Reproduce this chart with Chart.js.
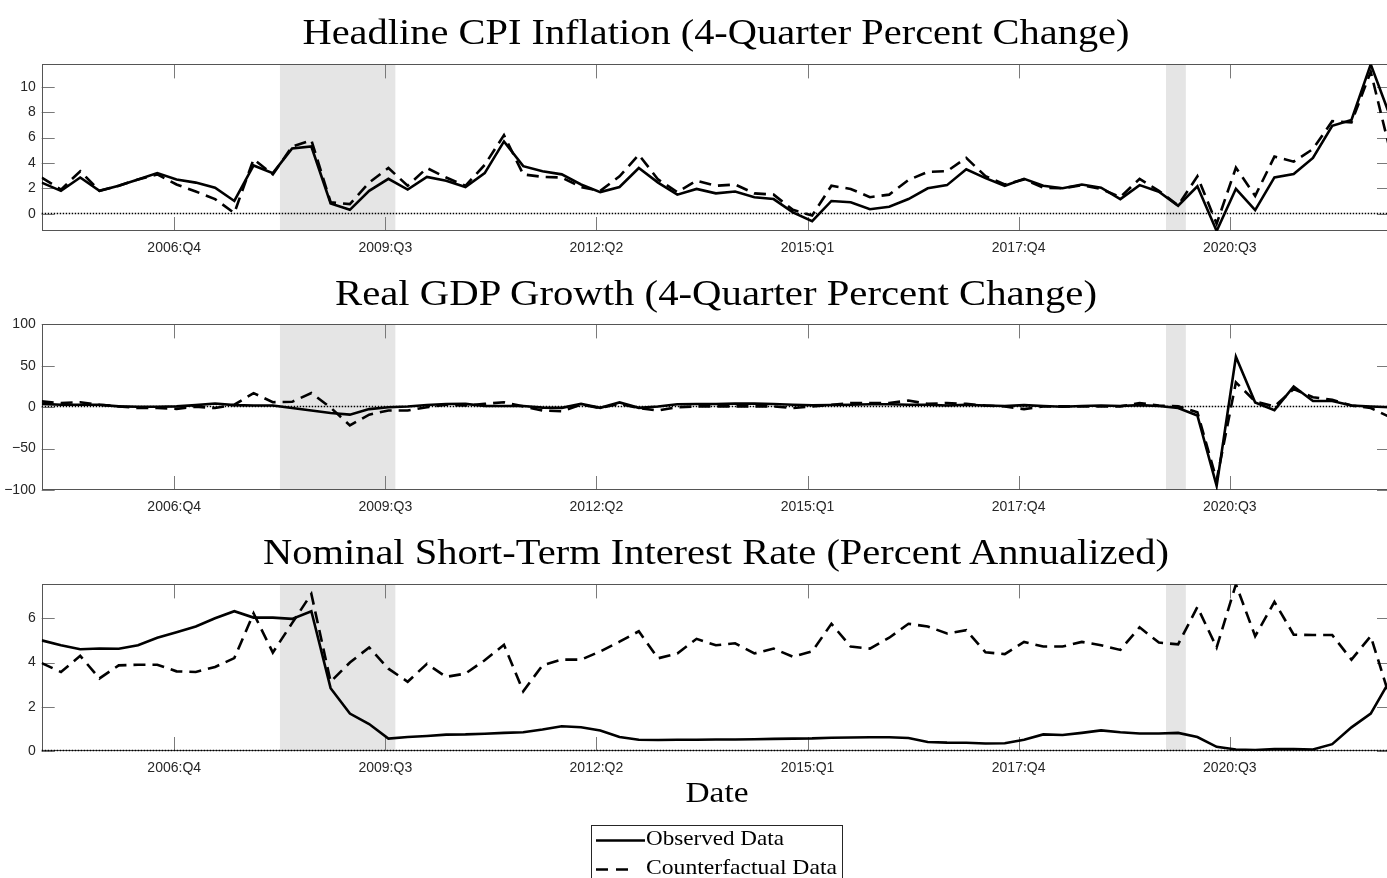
<!DOCTYPE html>
<html>
<head>
<meta charset="utf-8">
<script src="https://cdn.jsdelivr.net/npm/chart.js@4.4.1/dist/chart.umd.min.js"></script>
<style>
  html, body { margin: 0; padding: 0; background: #fff; width: 1387px; height: 878px; overflow: hidden; }
  canvas { position: absolute; left: 0; }
  #overlay { position: absolute; left: 0; top: 0; }
  #overlay text { font-family: "Liberation Serif", "Times New Roman", serif; fill: #000; }
</style>
</head>
<body>
<canvas id="cpi" width="1392" height="215" style="top:50px"></canvas>
<canvas id="gdp" width="1392" height="215" style="top:310px"></canvas>
<canvas id="rate" width="1392" height="215" style="top:570px"></canvas>

<svg id="overlay" width="1387" height="878">
  <text x="716" y="44" font-size="35" text-anchor="middle" textLength="827" lengthAdjust="spacingAndGlyphs">Headline CPI Inflation (4-Quarter Percent Change)</text>
  <text x="716" y="305" font-size="35" text-anchor="middle" textLength="762" lengthAdjust="spacingAndGlyphs">Real GDP Growth (4-Quarter Percent Change)</text>
  <text x="716" y="564" font-size="35" text-anchor="middle" textLength="906" lengthAdjust="spacingAndGlyphs">Nominal Short-Term Interest Rate (Percent Annualized)</text>
  <text x="717" y="802" font-size="29" text-anchor="middle" textLength="63" lengthAdjust="spacingAndGlyphs">Date</text>
  <rect x="591.5" y="825.5" width="251" height="70" fill="#fff" stroke="#262626" stroke-width="1"/>
  <line x1="596" y1="840.5" x2="645" y2="840.5" stroke="#000" stroke-width="2.6"/>
  <line x1="596" y1="869.5" x2="630" y2="869.5" stroke="#000" stroke-width="2.6" stroke-dasharray="12 8"/>
  <text x="646" y="845" font-size="21" textLength="138" lengthAdjust="spacingAndGlyphs">Observed Data</text>
  <text x="646" y="874" font-size="21" textLength="191" lengthAdjust="spacingAndGlyphs">Counterfactual Data</text>
</svg>

<script>
// quarters 2005:Q1 .. 2022:Q3 (index 0..70)
const quarters = [];
for (let y = 2005; y <= 2022; y++) for (let q = 1; q <= 4; q++) quarters.push(y + ":Q" + q);
quarters.length = 71;

const tickLabels = ["2006:Q4", "2009:Q3", "2012:Q2", "2015:Q1", "2017:Q4", "2020:Q3"];
const tickAt = [6.88, 17.84, 28.80, 39.76, 50.72, 61.68];
const recessions = [[12.37, 18.36], [58.37, 59.40]];

const cpiObs = [2.45, 1.8, 2.85, 1.8, 2.2, 2.7, 3.2, 2.7, 2.45, 2.05,
  1.0, 3.8, 3.2, 5.15, 5.3, 0.8, 0.3, 1.8, 2.75, 1.9,
  2.9, 2.6, 2.1, 3.2, 5.7, 3.75, 3.35, 3.1, 2.3, 1.7,
  2.1, 3.6, 2.45, 1.5, 1.95, 1.6, 1.75, 1.3, 1.15, 0.1,
  -0.6, 1.0, 0.9, 0.35, 0.55, 1.15, 2.0, 2.25, 3.5, 2.8,
  2.2, 2.75, 2.2, 2.0, 2.3, 2.05, 1.15, 2.25, 1.73, 0.62,
  2.16, -1.37, 1.96, 0.28, 2.86, 3.12, 4.4, 6.93, 7.4, 11.78,
  7.7];
const cpiCf = [2.85, 1.9, 3.35, 1.8, 2.2, 2.7, 3.1, 2.3, 1.75, 1.15,
  0.05, 4.3, 3.1, 5.3, 5.8, 0.9, 0.75, 2.45, 3.6, 2.2,
  3.6, 2.85, 2.2, 3.85, 6.2, 3.1, 2.9, 2.85, 2.1, 1.8,
  2.95, 4.65, 2.7, 1.7, 2.6, 2.2, 2.3, 1.6, 1.5, 0.3,
  -0.15, 2.2, 1.95, 1.3, 1.5, 2.65, 3.3, 3.35, 4.4, 2.95,
  2.3, 2.7, 2.05, 2.0, 2.25, 1.95, 1.3, 2.75, 1.8, 0.65,
  2.95, -0.8, 3.63, 1.4, 4.5, 4.1, 5.1, 7.3, 7.2, 11.2,
  5.0];

const gdpObs = [4, 3, 3, 3, 1, 0.5, 0.5, 1, 2.5, 4.5,
  2.5, 2, 2, -1, -4, -7, -9, -2.3, 0, 0.8,
  2.7, 3.9, 4, 1.5, 1.5, 1.5, -0.5, -0.8, 4, -0.8,
  5.8, -0.8, 0.8, 3.5, 3.9, 3.9, 4.3, 4.3, 3.9, 3,
  2.3, 2.7, 3, 3.5, 3.5, 3, 3, 2, 3, 2,
  1.5, 2.5, 1.5, 0.5, 1.5, 2, 1.5, 2.5, 1.5, -1,
  -10, -95, 61, 5.8, -3.5, 25, 7.4, 7.4, 2, 0.8,
  0];
const gdpCf = [7, 5, 6, 3, 1, -1, -1, -2, 0.5, -1,
  3, 17, 6, 6.5, 17, -0.5, -22, -9, -4, -4,
  0, 3, 2, 4, 6, 1, -4, -5, 3, -1,
  4, -1, -4, 0, 1, 1, 1, 1, 1, -1,
  1, 3, 5, 5, 5, 8, 4, 5, 4, 2,
  1, -2.3, 1, 1, 1, 1, 1, 5, 2, 1,
  -6, -88, 30, 7, 0.8, 22, 12, 9, 2, -1,
  -12];

const rateObs = [5.0, 4.78, 4.6, 4.63, 4.62, 4.78, 5.12, 5.37, 5.63, 6.0,
  6.32, 6.03, 6.03, 5.97, 6.32, 2.84, 1.69, 1.22, 0.56, 0.63,
  0.68, 0.74, 0.75, 0.78, 0.82, 0.85, 0.97, 1.12, 1.07, 0.93,
  0.63, 0.51, 0.5, 0.51, 0.51, 0.52, 0.52, 0.53, 0.55, 0.56,
  0.57, 0.6, 0.61, 0.62, 0.62, 0.59, 0.41, 0.38, 0.37, 0.34,
  0.35, 0.51, 0.75, 0.72, 0.82, 0.93, 0.85, 0.79, 0.79, 0.82,
  0.63, 0.19, 0.07, 0.04, 0.09, 0.09, 0.07, 0.31, 1.07, 1.69,
  3.2];
const rateCf = [3.97, 3.57, 4.3, 3.28, 3.87, 3.9, 3.9, 3.6, 3.57, 3.8,
  4.2, 6.22, 4.45, 5.78, 7.1, 3.13, 4.0, 4.68, 3.72, 3.13,
  3.94, 3.35, 3.5, 4.1, 4.8, 2.7, 3.87, 4.13, 4.13, 4.5,
  4.94, 5.41, 4.19, 4.41, 5.07, 4.78, 4.87, 4.41, 4.63, 4.26,
  4.5, 5.75, 4.72, 4.63, 5.12, 5.75, 5.63, 5.31, 5.46, 4.46,
  4.38, 4.93, 4.72, 4.72, 4.93, 4.78, 4.57, 5.59, 4.9, 4.82,
  6.51, 4.68, 7.53, 5.19, 6.74, 5.26, 5.24, 5.24, 4.13, 5.19,
  2.4];

const tickFont = { family: "Liberation Sans, Arial, sans-serif", size: 14 };

const decor = {
  id: "decor",
  beforeDatasetsDraw(chart) {
    const { ctx, chartArea: a, scales: { x, y } } = chart;
    ctx.save();
    ctx.fillStyle = "#e5e5e5";
    recessions.forEach(([s, e]) => {
      const x0 = x.getPixelForValue(s), x1 = x.getPixelForValue(e);
      ctx.fillRect(x0, a.top, x1 - x0, a.bottom - a.top);
    });

    ctx.strokeStyle = "#7a7a7a";
    ctx.lineWidth = 1;
    ctx.beginPath();
    x.ticks.forEach(t => {
      const px = Math.round(x.getPixelForValue(t.value)) + 0.5;
      ctx.moveTo(px, a.bottom); ctx.lineTo(px, a.bottom - 14);
      ctx.moveTo(px, a.top); ctx.lineTo(px, a.top + 14);
    });
    y.ticks.forEach(t => {
      const py = Math.round(y.getPixelForValue(t.value)) + 0.5;
      ctx.moveTo(a.left, py); ctx.lineTo(a.left + 13, py);
      ctx.moveTo(a.right, py); ctx.lineTo(a.right - 13, py);
    });
    ctx.stroke();

    ctx.strokeStyle = "#555";
    ctx.strokeRect(Math.round(a.left) + 0.5, Math.round(a.top) + 0.5,
      Math.round(a.right - a.left), Math.round(a.bottom - a.top) - 1);

    // dotted zero line
    const z = Math.round(y.getPixelForValue(0)) - 0.5;
    ctx.strokeStyle = "#000";
    ctx.lineWidth = 1.5;
    ctx.setLineDash([1.5, 1.5]);
    ctx.beginPath();
    ctx.moveTo(a.left, z); ctx.lineTo(a.right, z);
    ctx.stroke();
    ctx.restore();
  }
};

function panel(id, obs, cf, yMin, yMax, yTicks, padTop, xHeight) {
  const pts = arr => arr.map((v, i) => ({ x: i, y: v }));
  return new Chart(document.getElementById(id), {
    type: "line",
    data: {
      datasets: [
        { label: "Observed Data", data: pts(obs), borderColor: "#000", borderWidth: 2.6, pointRadius: 0, tension: 0 },
        { label: "Counterfactual Data", data: pts(cf), borderColor: "#000", borderWidth: 2.6, borderDash: [12, 7], pointRadius: 0, tension: 0 }
      ]
    },
    options: {
      responsive: false,
      animation: false,
      devicePixelRatio: 1,
      layout: { padding: { top: padTop, right: 2, left: 0, bottom: 0 } },
      plugins: { legend: { display: false }, tooltip: { enabled: false } },
      scales: {
        x: {
          type: "linear", min: 0, max: 70,
          grid: { display: false, drawTicks: false }, border: { display: false },
          afterBuildTicks: s => { s.ticks = tickAt.map(v => ({ value: v })); },
          afterFit: s => { s.height = xHeight; },
          ticks: {
            autoSkip: false, maxRotation: 0, padding: 9, color: "#262626", font: tickFont,
            callback: (v, i) => tickLabels[i]
          }
        },
        y: {
          min: yMin, max: yMax,
          grid: { display: false, drawTicks: false }, border: { display: false },
          afterBuildTicks: s => { s.ticks = yTicks.map(v => ({ value: v })); },
          afterFit: s => { s.width = 41.7; },
          ticks: {
            padding: 6, color: "#262626", font: tickFont,
            callback: v => String(v).replace("-", "\u2212")
          }
        }
      }
    },
    plugins: [decor]
  });
}

panel("cpi", cpiObs, cpiCf, -1.37, 11.78, [0, 2, 4, 6, 8, 10], 11, 34);
panel("gdp", gdpObs, gdpCf, -100, 100, [-100, -50, 0, 50, 100], 10, 35);
panel("rate", rateObs, rateCf, 0, 7.53, [0, 2, 4, 6], 10, 34);
</script>
</body>
</html>
